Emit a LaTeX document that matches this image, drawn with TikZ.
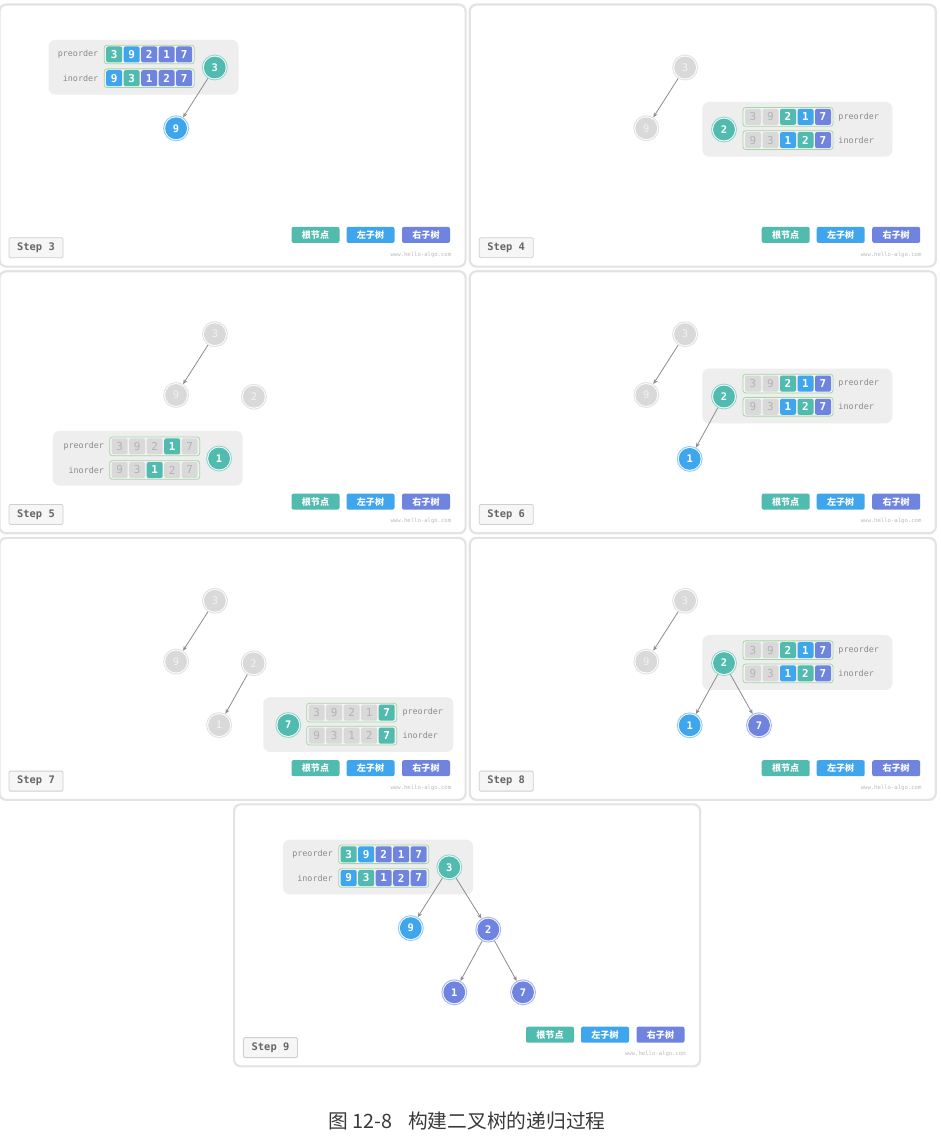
\documentclass[tikz,border=0pt]{standalone}
\usepackage{fontspec}
\setmonofont{DejaVu Sans Mono}
\newfontfamily\cjkfont{Noto Sans CJK SC}
\usetikzlibrary{arrows.meta}

\definecolor{cRoot}{HTML}{52BBAF}
\definecolor{cRootL}{HTML}{95D6CE}
\definecolor{cLeft}{HTML}{3FA6EE}
\definecolor{cLeftL}{HTML}{92CBF6}
\definecolor{cRight}{HTML}{6F84DF}
\definecolor{cRightL}{HTML}{A8B5EE}
\definecolor{cGray}{HTML}{D9D9D9}
\definecolor{cGrayL}{HTML}{E2E2E2}
\definecolor{cGrayT}{HTML}{B3B3B3}
\definecolor{cGrayN}{HTML}{F2F2F2}
\definecolor{tblBg}{HTML}{EEEEEE}
\definecolor{arrGreen}{HTML}{A3D5A3}
\definecolor{arrFill}{HTML}{F4F4F4}
\definecolor{panelLine}{HTML}{E3E3E3}
\definecolor{edgeCol}{HTML}{8C8C8C}
\definecolor{labelCol}{HTML}{8A8A8A}
\definecolor{stepLine}{HTML}{CFCFCF}
\definecolor{stepFill}{HTML}{F6F6F6}
\definecolor{stepText}{HTML}{666666}
\definecolor{wmCol}{HTML}{BBBBBB}
\definecolor{capCol}{HTML}{3A3A3A}

\newcommand\fCell{\ttfamily\fontsize{8.2}{9}\selectfont}
\newcommand\fCellB{\ttfamily\bfseries\fontsize{8.2}{9}\selectfont}
\newcommand\fNode{\ttfamily\fontsize{7.8}{9}\selectfont}
\newcommand\fNodeB{\ttfamily\bfseries\fontsize{7.8}{9}\selectfont}
\newcommand\fLbl{\ttfamily\fontsize{6.3}{7}\selectfont}
\newcommand\fStep{\ttfamily\bfseries\fontsize{7.8}{9}\selectfont}
\newcommand\fLeg{\cjkfont\bfseries\fontsize{6.8}{8}\selectfont}
\newcommand\fWm{\ttfamily\fontsize{4.2}{5}\selectfont}

\tikzset{
 panelbox/.style={draw=panelLine, line width=1.6pt, fill=white, rounded corners=5pt, minimum width=349.5pt, minimum height=196.5pt, inner sep=0pt, anchor=north west},
 tblbox/.style={fill=tblBg, rounded corners=5pt, minimum width=142.5pt, minimum height=41pt, inner sep=0pt},
 arrbox/.style={draw=arrGreen, line width=0.6pt, fill=arrFill, rounded corners=2pt, minimum width=67.5pt, minimum height=14pt, inner sep=0pt},
 cellbase/.style={rounded corners=1.5pt, minimum width=12pt, minimum height=12pt, inner sep=0pt},
 cellR/.style={cellbase, fill=cRoot, text=white, font=\fCellB},
 cellL/.style={cellbase, fill=cLeft, text=white, font=\fCellB},
 cellP/.style={cellbase, fill=cRight, text=white, font=\fCellB},
 cellG/.style={cellbase, fill=cGray, text=cGrayT, font=\fCell},
 ringbase/.style={circle, line width=0.7pt, fill=white, minimum size=18.7pt, inner sep=0pt},
 ringR/.style={ringbase, draw=cRootL},
 ringL/.style={ringbase, draw=cLeftL},
 ringP/.style={ringbase, draw=cRightL},
 ringG/.style={ringbase, draw=cGrayL},
 nodebase/.style={circle, minimum size=16.4pt, inner sep=0pt},
 nodeR/.style={nodebase, fill=cRoot, text=white, font=\fNodeB},
 nodeL/.style={nodebase, fill=cLeft, text=white, font=\fNodeB},
 nodeP/.style={nodebase, fill=cRight, text=white, font=\fNodeB},
 nodeG/.style={nodebase, fill=cGray, text=cGrayN, font=\fNode},
 treeedge/.style={draw=edgeCol, line width=0.6pt, -{Stealth[length=3.6pt,width=3pt]}},
 lbl/.style={font=\fLbl, text=labelCol, inner sep=0pt},
 legbox/.style={rounded corners=1.5pt, minimum width=36pt, minimum height=12pt, inner sep=0pt, text=white, font=\fLeg},
 stepbox/.style={draw=stepLine, fill=stepFill, line width=0.6pt, rounded corners=1pt, minimum width=40.5pt, minimum height=15pt, inner sep=0pt, text=stepText, font=\fStep},
 wm/.style={font=\fWm, text=wmCol, inner sep=0pt, anchor=east},
}

% tree node: name, (pos), kind, text
\newcommand\tn[4]{\node[ring#3] (#1r) at #2 {}; \node[node#3] (#1) at #2 {#4};}
% array row: name, cx, cy, list kind/text
\newcommand\arrrow[4]{\node[arrbox] (#1) at (#2,#3) {};
 \foreach \kind/\val [count=\idx] in {#4} {\node[cell\kind] (#1c\idx) at ({#2+(\idx-3)*17.5},#3) {\val};}}
\newcommand\panelframe[2]{%
 \node[panelbox] (#1frame) at (0,0) {};
 \node[legbox, fill=cRoot] (#1lgA) at (317,231.4) {根节点};
 \node[legbox, fill=cLeft] (#1lgB) at (372,231.4) {左子树};
 \node[legbox, fill=cRight] (#1lgC) at (427.5,231.4) {右子树};
 \node[stepbox] (#1step) at (37.5,244.3) {Step #2};
 \node[wm] (#1wm) at (453,251) {www.hello-algo.com};
}

\begin{document}
\begin{tikzpicture}[x=0.75pt,y=-0.75pt]
\fill[white] (0,0) rectangle (941,1148);
\useasboundingbox (0,0) rectangle (941,1148);

% ---------- Step 3 ----------
\begin{scope}[shift={(-1.5,3.5)}]
\panelframe{s3}{3}
\node[tblbox] (s3tbl) at (145,63.75) {};
\node[lbl, anchor=east] (s3pre) at (100,51) {preorder};
\node[lbl, anchor=east] (s3in) at (100,74.7) {inorder};
\arrrow{s3a}{150.7}{51}{R/3,L/9,P/2,P/1,P/7}
\arrrow{s3b}{150.7}{74.7}{L/9,R/3,P/1,P/2,P/7}
\tn{s3n3}{(216.3,64)}{R}{3}
\tn{s3n9}{(177.6,124.8)}{L}{9}
\draw[treeedge] (s3n3r) -- (s3n9r);
\end{scope}

% ---------- Step 4 ----------
\begin{scope}[shift={(468.7,3.5)}]
\panelframe{s4}{4}
\tn{s4n3}{(216.4,64)}{G}{3}
\tn{s4n9}{(177.6,124.8)}{G}{9}
\draw[treeedge] (s4n3r) -- (s4n9r);
\node[tblbox] (s4tbl) at (328.6,125.75) {};
\arrrow{s4a}{319.3}{113.4}{G/3,G/9,R/2,L/1,P/7}
\arrrow{s4b}{319.3}{136.6}{G/9,G/3,L/1,R/2,P/7}
\node[lbl, anchor=west] (s4pre) at (369.5,113.4) {preorder};
\node[lbl, anchor=west] (s4in) at (369.5,136.6) {inorder};
\tn{s4n2}{(255.3,126)}{R}{2}
\end{scope}

% ---------- Step 5 ----------
\begin{scope}[shift={(-1.5,270.2)}]
\panelframe{s5}{5}
\tn{s5n3}{(216.4,64)}{G}{3}
\tn{s5n9}{(177.6,124.8)}{G}{9}
\tn{s5n2}{(255.4,126.5)}{G}{2}
\draw[treeedge] (s5n3r) -- (s5n9r);
\node[tblbox] (s5tbl) at (149.2,188) {};
\node[lbl, anchor=east] (s5pre) at (105.8,176.2) {preorder};
\node[lbl, anchor=east] (s5in) at (105.8,199.8) {inorder};
\arrrow{s5a}{156.2}{176.2}{G/3,G/9,G/2,R/1,G/7}
\arrrow{s5b}{156.2}{199.8}{G/9,G/3,R/1,G/2,G/7}
\tn{s5n1}{(220.6,188.3)}{R}{1}
\end{scope}

% ---------- Step 6 ----------
\begin{scope}[shift={(468.7,270.2)}]
\panelframe{s6}{6}
\tn{s6n3}{(216.4,64)}{G}{3}
\tn{s6n9}{(177.6,124.8)}{G}{9}
\draw[treeedge] (s6n3r) -- (s6n9r);
\node[tblbox] (s6tbl) at (328.6,125.75) {};
\arrrow{s6a}{319.3}{113.4}{G/3,G/9,R/2,L/1,P/7}
\arrrow{s6b}{319.3}{136.6}{G/9,G/3,L/1,R/2,P/7}
\node[lbl, anchor=west] (s6pre) at (369.5,113.4) {preorder};
\node[lbl, anchor=west] (s6in) at (369.5,136.6) {inorder};
\tn{s6n2}{(255.3,126.3)}{R}{2}
\tn{s6n1}{(221,188.7)}{L}{1}
\draw[treeedge] (s6n2r) -- (s6n1r);
\end{scope}

% ---------- Step 7 ----------
\begin{scope}[shift={(-1.5,536.8)}]
\panelframe{s7}{7}
\tn{s7n3}{(216.4,64)}{G}{3}
\tn{s7n9}{(177.6,124.8)}{G}{9}
\tn{s7n2}{(255.1,126.5)}{G}{2}
\tn{s7n1}{(220.6,188.3)}{G}{1}
\draw[treeedge] (s7n3r) -- (s7n9r);
\draw[treeedge] (s7n2r) -- (s7n1r);
\node[tblbox] (s7tbl) at (359.8,187.75) {};
\arrrow{s7a}{353.2}{175.8}{G/3,G/9,G/2,G/1,R/7}
\arrrow{s7b}{353.2}{198.8}{G/9,G/3,G/1,G/2,R/7}
\node[lbl, anchor=west] (s7pre) at (403.8,175.8) {preorder};
\node[lbl, anchor=west] (s7in) at (403.8,198.8) {inorder};
\tn{s7n7}{(289.8,188.2)}{R}{7}
\end{scope}

% ---------- Step 8 ----------
\begin{scope}[shift={(468.7,536.8)}]
\panelframe{s8}{8}
\tn{s8n3}{(216.4,64)}{G}{3}
\tn{s8n9}{(177.6,124.8)}{G}{9}
\draw[treeedge] (s8n3r) -- (s8n9r);
\node[tblbox] (s8tbl) at (328.6,125.75) {};
\arrrow{s8a}{319.3}{113.4}{G/3,G/9,R/2,L/1,P/7}
\arrrow{s8b}{319.3}{136.6}{G/9,G/3,L/1,R/2,P/7}
\node[lbl, anchor=west] (s8pre) at (369.5,113.4) {preorder};
\node[lbl, anchor=west] (s8in) at (369.5,136.6) {inorder};
\tn{s8n2}{(255.3,126.3)}{R}{2}
\tn{s8n1}{(221,188.5)}{L}{1}
\tn{s8n7}{(290.3,188.5)}{P}{7}
\draw[treeedge] (s8n2r) -- (s8n1r);
\draw[treeedge] (s8n2r) -- (s8n7r);
\end{scope}

% ---------- Step 9 ----------
\begin{scope}[shift={(233,803.3)}]
\panelframe{s9}{9}
\node[tblbox] (s9tbl) at (145,63.75) {};
\node[lbl, anchor=east] (s9pre) at (100,51) {preorder};
\node[lbl, anchor=east] (s9in) at (100,74.7) {inorder};
\arrrow{s9a}{150.7}{51}{R/3,L/9,P/2,P/1,P/7}
\arrrow{s9b}{150.7}{74.7}{L/9,R/3,P/1,P/2,P/7}
\tn{s9n3}{(216.3,64)}{R}{3}
\tn{s9n9}{(177.8,124.8)}{L}{9}
\tn{s9n2}{(255.3,126.3)}{P}{2}
\tn{s9n1}{(221.3,189)}{P}{1}
\tn{s9n7}{(290,189)}{P}{7}
\draw[treeedge] (s9n3r) -- (s9n9r);
\draw[treeedge] (s9n3r) -- (s9n2r);
\draw[treeedge] (s9n2r) -- (s9n1r);
\draw[treeedge] (s9n2r) -- (s9n7r);
\end{scope}

% ---------- Caption ----------
\node[font=\cjkfont\fontsize{14.8}{16}\selectfont, text=capCol, inner sep=0pt] (caption) at (467,1121) {图 12-8\hspace{0.8em}构建二叉树的递归过程};
\end{tikzpicture}
\end{document}
